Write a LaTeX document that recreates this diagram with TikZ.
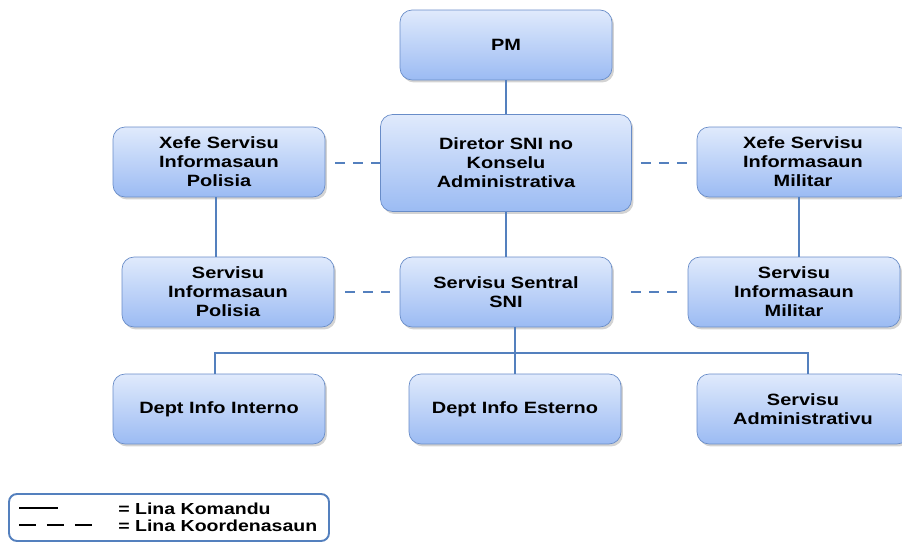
\documentclass[tikz,border=0pt]{standalone}
\usepackage{fontspec}
\setmainfont{Liberation Sans}[FakeStretch=1.22]
\usetikzlibrary{calc,shadows}

\definecolor{boxtop}{RGB}{224,234,252}
\definecolor{boxbot}{RGB}{155,187,243}
\definecolor{boxline}{RGB}{104,140,200}
\definecolor{linkcol}{RGB}{84,128,190}

\tikzset{
  unit/.style={draw=boxline, rounded corners=0.24cm, top color=boxtop, bottom color=boxbot,
    minimum width=4.24cm, minimum height=1.4cm, align=center, inner sep=0pt,
    font=\bfseries\fontsize{9.3}{10.8}\selectfont,
    drop shadow={opacity=0.35, shadow xshift=0.04cm, shadow yshift=-0.05cm}},
  cmd/.style={draw=linkcol, line width=0.6pt},
  coord/.style={draw=linkcol, line width=0.6pt, dash pattern=on 0.2cm off 0.16cm},
  legtext/.style={anchor=west, inner sep=0pt, font=\bfseries\fontsize{9.1}{10}\selectfont}
}

\begin{document}
\begin{tikzpicture}[x=0.02cm, y=-0.02cm]
		%%%%% FRAME %%%%%
		\useasboundingbox (0,0) rectangle (902,543);
		
		%%%%% UNITS %%%%%
		\node[unit] (pm) at (506,45) {PM};
		\node[unit, minimum width=5.02cm, minimum height=1.94cm] (dir) at (506,163) {Diretor SNI no\\Konselu\\Administrativa};
		\node[unit] (xpol) at (219,162) {Xefe Servisu\\Informasaun\\Polisia};
		\node[unit] (xmil) at (803,162) {Xefe Servisu\\Informasaun\\Militar};
		
		\node[unit] (spol) at (228,292) {Servisu\\Informasaun\\Polisia};
		\node[unit] (sen) at (506,292) {Servisu Sentral\\SNI};
		\node[unit] (smil) at (794,292) {Servisu\\Informasaun\\Militar};
		
		\node[unit] (dint) at (219,409) {Dept Info Interno};
		\node[unit] (dext) at (515,409) {Dept Info Esterno};
		\node[unit] (sadm) at (803,409) {Servisu\\Administrativu};
		
		%%%%% LINA KOMANDU %%%%%
		\draw[cmd] (pm) -- (dir);
		\draw[cmd] (dir) -- (sen);
		\draw[cmd] ($(xpol.south)+(-3,0)$) -- ($(xpol.south |- spol.north)+(-3,0)$);
		\draw[cmd] ($(smil.north)+(5,0)$) -- ($(smil.north |- xmil.south)+(5,0)$);
		
		\coordinate (bus) at (512,353);
		\draw[cmd] (dext.north |- sen.south) -- (dext.north);
		\draw[cmd] ($(dint.north)+(-4,0)$) |- (bus) -| ($(sadm.north)+(5,0)$);
		
		%%%%% LINA KOORDENASAUN %%%%%
		\draw[coord, shorten <=0.2cm] (xpol.east |- dir.west) -- (dir.west);
		\draw[coord, shorten <=0.18cm, shorten >=0.18cm] (dir.east) -- (dir.east -| xmil.west);
		\draw[coord, shorten <=0.22cm, shorten >=0.2cm] (spol.east |- sen.west) -- (sen.west);
		\draw[coord, shorten <=0.38cm, shorten >=0.16cm] (sen.east) -- (sen.east -| smil.west);
		
		%%%%% LEGEND %%%%%
		\draw[draw=linkcol, line width=1.1pt, rounded corners=0.16cm] (9,494) rectangle (329,541);
		\node[legtext] (leg1) at (118,509) {= Lina Komandu};
		\node[legtext] (leg2) at (118,526) {= Lina Koordenasaun};
		\draw[line width=1.5pt] (19,508) -- (58,508);
		\draw[line width=1.5pt, dash pattern=on 0.34cm off 0.22cm] (19,525) -- (98,525);
		
\end{tikzpicture}
\end{document}
